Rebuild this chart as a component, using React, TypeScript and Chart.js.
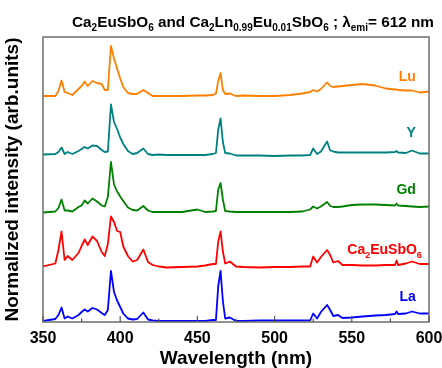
import React, { useEffect, useRef } from 'react';
import { Chart, registerables } from 'chart.js';

Chart.register(...registerables);

const wavelengths = [350, 358, 360, 362, 364, 366, 369, 373, 375, 377, 379, 382, 385, 388, 390, 392, 394, 396, 398, 400, 402, 405, 408, 411, 415, 418, 421, 425, 430, 440, 450, 455, 460, 462, 463.5, 465, 466.5, 468, 471, 475, 480, 490, 500, 510, 518, 523, 525, 527.5, 530, 534, 536, 538, 541, 544, 550, 557, 565, 572, 578, 579, 580, 585, 589, 594, 600];

const laIntensity = [0, 4, 12, 27, 5, 9, 5, 12, 18, 23, 19, 26, 23, 16, 12, 22, 100, 58, 41, 28, 15, 5, 3, 4, 17, 3, 1, 0, 0, 0, 0, 0, 2, 2, 70, 100, 40, 5, 7, 0, 0, 1, 1, 1, 1, 1, 15, 5, 18, 32, 22, 10, 12, 6, 7, 9, 11, 12, 14, 19, 14, 15, 19, 15, 15];
const ca2EuSbO6Intensity = [0, 6, 33, 70, 13, 21, 13, 27, 41, 54, 43, 60, 51, 29, 21, 45, 100, 89, 71, 69, 40, 21, 10, 13, 34, 9, 3, 0, -2, -1, 0, 2, 5, 5, 50, 70, 30, 6, 10, 0, -1, -2, -1, -1, 0, 0, 20, 8, 19, 33, 23, 8, 11, 3, 3, 2, 2, 3, 3, 12, 3, 6, 10, 5, 5];
const gdIntensity = [-1, 1, 8, 25, 3, 3, 1, 10, 13, 23, 17, 27, 21, 13, 11, 30, 100, 55, 41, 31, 22, 9, 4, 3, 12, 3, 0, 0, 0, 0, 5, 0, 1, 2, 45, 58, 25, 2, 1, 0, 0, 0, 0, 0, 1, 5, 11, 7, 11, 20, 12, 10, 10, 11, 14, 15, 15, 14, 13, 17, 13, 12, 11, 10, 11];
const yIntensity = [0, 1, 5, 14, 1, 5, 1, 7, 11, 15, 12, 18, 17, 9, 5, 6, 100, 65, 51, 34, 21, 7, 1, 3, 12, 1, -1, 0, -1, -1, -1, -1, 1, 3, 50, 72, 25, 3, 2, -2, -2, -2, -3, -2, -2, -1, 12, 1, 6, 26, 8, 6, 4, 4, 4, 4, 4, 4, 5, 7, 4, 3, 8, 2, 2];
const luIntensity = [0, 0, 10, 31, 8, 6, 2, 14, 20, 29, 20, 30, 26, 24, 12, 12, 100, 75, 55, 35, 18, 6, 4, 4, 12, 6, 0, 0, 0, 0, 1, 1, 2, 5, 30, 46, 12, 4, 5, 0, 1, 0, 0, 2, 5, 8, 12, 9, 14, 27, 20, 18, 19, 20, 22, 24, 21, 15, 13, 13, 12, 11, 11, 7, 9];

const seriesNames = ['La', 'Ca2EuSbO6', 'Gd', 'Y', 'Lu'];
const seriesOffsets = [2, 111, 220, 335, 452];
const seriesValues = [laIntensity, ca2EuSbO6Intensity, gdIntensity, yIntensity, luIntensity];
const seriesColors = ['#0000ff', '#ff0000', '#008000', '#008080', '#ff8000'];

const xTickValues = [350, 400, 450, 500, 550, 600];

type Part = [string, boolean?];

const FONT = '"Liberation Sans", Arial, sans-serif';

function drawRich(ctx: CanvasRenderingContext2D, parts: Part[], x: number, y: number, align: 'left' | 'right' | 'center', size: number, color: string) {
  const mainFont = `bold ${size}px ${FONT}`;
  const subSize = Math.round(size * 0.66);
  const subFont = `bold ${subSize}px ${FONT}`;
  let total = 0;
  const widths = parts.map(([t, sub]) => {
    ctx.font = sub ? subFont : mainFont;
    const w = ctx.measureText(t).width;
    total += w;
    return w;
  });
  let cx = align === 'left' ? x : align === 'right' ? x - total : x - total / 2;
  ctx.fillStyle = color;
  ctx.textAlign = 'left';
  ctx.textBaseline = 'alphabetic';
  parts.forEach(([t, sub], i) => {
    ctx.font = sub ? subFont : mainFont;
    ctx.fillText(t, cx, sub ? y + size * 0.28 : y);
    cx += widths[i];
  });
}

const labelParts: Part[][] = [
  [['La']],
  [['Ca'], ['2', true], ['EuSbO'], ['6', true]],
  [['Gd']],
  [['Y']],
  [['Lu']],
];
const labelLevels = [42, 136, 256, 370, 482];

const titleParts: Part[] = [
  ['Ca'], ['2', true], ['EuSbO'], ['6', true], [' and Ca'], ['2', true], ['Ln'], ['0.99', true],
  ['Eu'], ['0.01', true], ['SbO'], ['6', true], [' ; \u03bb'], ['emi', true], ['= 612 nm'],
];

const decorPlugin = {
  id: 'decor',
  afterDatasetsDraw(chart: any) {
    const { ctx, chartArea, scales } = chart;
    const xs = scales.x;
    const ys = scales.y;
    ctx.save();
    ctx.strokeStyle = '#6e6e6e';
    ctx.lineWidth = 1.5;
    ctx.strokeRect(chartArea.left, chartArea.top, chartArea.right - chartArea.left, chartArea.bottom - chartArea.top);
    ctx.strokeStyle = '#555';
    ctx.lineWidth = 1.2;
    for (let v = 350; v <= 600; v += 25) {
      const px = xs.getPixelForValue(v);
      const len = v % 50 === 0 ? 6 : 3.5;
      ctx.beginPath();
      ctx.moveTo(px, chartArea.bottom);
      ctx.lineTo(px, chartArea.bottom - len);
      ctx.stroke();
    }
    const lx = xs.getPixelForValue(591.5);
    labelParts.forEach((parts, i) => {
      const py = ys.getPixelForValue(labelLevels[i]);
      const isLong = parts.length > 1;
      drawRich(ctx, parts, isLong ? lx + 6 : lx, py, 'right', 14, seriesColors[i]);
    });
    drawRich(ctx, titleParts, (chartArea.left + chartArea.right) / 2 + 17, 27, 'center', 15.3, '#000');
    ctx.restore();
  },
};

export default function App() {
  const ref = useRef<HTMLCanvasElement>(null);
  useEffect(() => {
    document.body.style.margin = '0';
    const canvas = ref.current!;
    const chart = new Chart(canvas, {
      type: 'line',
      data: {
        datasets: seriesValues.map((vals, i) => ({
          label: seriesNames[i],
          data: wavelengths.map((w, j) => ({ x: w, y: vals[j] + seriesOffsets[i] })),
          borderColor: seriesColors[i],
          backgroundColor: seriesColors[i],
          borderWidth: 1.8,
          borderJoinStyle: 'round',
          pointRadius: 0,
          tension: 0,
          fill: false,
        })),
      },
      options: {
        responsive: false,
        animation: false,
        devicePixelRatio: 1,
        layout: { padding: { top: 37, right: 13, left: 0, bottom: 0 } },
        plugins: { legend: { display: false }, title: { display: false }, tooltip: { enabled: false } },
        scales: {
          x: {
            type: 'linear',
            min: 350,
            max: 600,
            grid: { display: false, drawTicks: false },
            border: { display: false },
            afterBuildTicks: (s: any) => { s.ticks = xTickValues.map((v) => ({ value: v })); },
            afterFit: (s: any) => { s.height = 46; s.paddingLeft = 0; s.paddingRight = 0; },
            ticks: {
              padding: 7,
              color: '#000',
              maxRotation: 0,
              autoSkip: false,
              font: { family: FONT, size: 16, weight: 'bold' },
            },
            title: {
              display: true,
              text: 'Wavelength (nm)',
              color: '#000',
              padding: { top: 0, bottom: 0 },
              font: { family: FONT, size: 19, weight: 'bold', lineHeight: 1 },
            },
          },
          y: {
            type: 'linear',
            min: 0,
            max: 570,
            grid: { display: false, drawTicks: false },
            border: { display: false },
            ticks: { display: false },
            afterFit: (s: any) => { s.width = 43; s.paddingTop = 0; s.paddingBottom = 0; },
            title: {
              display: true,
              text: 'Normalized intensity (arb.units)',
              color: '#000',
              padding: { top: 1, bottom: 0 },
              font: { family: FONT, size: 19, weight: 'bold', lineHeight: 1.2 },
            },
          },
        },
      },
      plugins: [decorPlugin],
    } as any);
    return () => chart.destroy();
  }, []);
  return (
    <div style={{ width: 442, height: 368 }}>
      <canvas ref={ref} width={442} height={368} style={{ display: 'block' }} />
    </div>
  );
}
